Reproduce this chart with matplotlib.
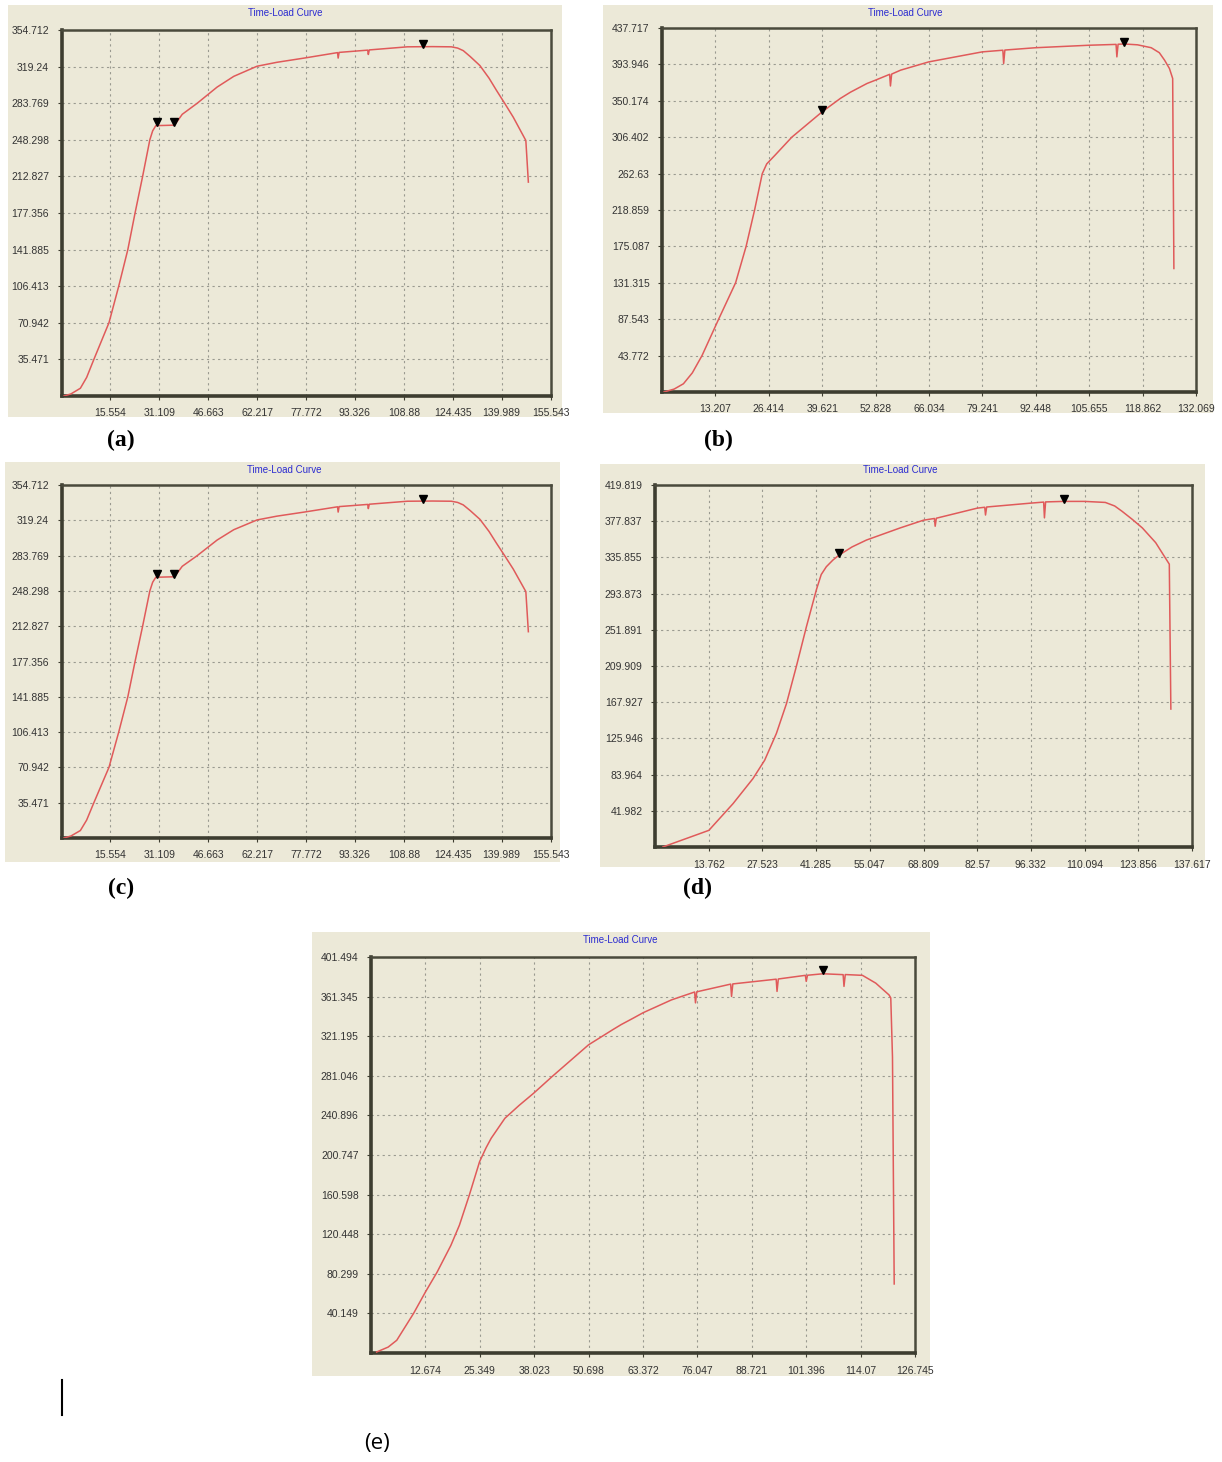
import matplotlib
matplotlib.use("Agg")
import matplotlib.pyplot as plt
from matplotlib.patches import Rectangle
from matplotlib.lines import Line2D

W, H = 1222, 1462
BG = "#ECE9D8"
SPINE = "#3d3d30"
CURVE = "#e05a5a"

# ---- data ----
# (a) and (c) show the same test
a_x = [0.8, 3.0, 6.0, 8.0, 10.3, 12.8, 15.1, 18.2, 21.1, 23.4, 25.8, 28.1, 29.0, 30.0, 35.9,
       37.0, 38.4, 43.2, 49.5, 54.8, 62.2, 68.5, 77.4, 87.8, 88.0, 88.3, 97.4, 97.6, 97.9,
       110.0, 118.0, 124.0, 126.0, 127.8, 130.0, 133.1, 136.0, 138.4, 141.0, 143.7, 147.7,
       148.5]
a_y = [0.0, 2.0, 7.5, 18.0, 35.5, 54.0, 71.0, 106.4, 141.9, 177.4, 212.8, 248.3, 257.0,
       262.0, 262.5, 267.0, 273.0, 283.8, 299.4, 309.8, 319.6, 323.4, 327.6, 332.8, 327.5,
       333.0, 335.2, 331.0, 335.4, 338.4, 338.6, 338.4, 337.2, 334.7, 329.0, 320.2, 308.0,
       296.0, 283.5, 270.2, 247.6, 207.3]
a_mx = [30.4, 35.9, 114.9]
a_my = [265.5, 265.5, 341.0]
a_xt = [15.554, 31.109, 46.663, 62.217, 77.772, 93.326, 108.88, 124.435, 139.989, 155.543]
a_yt = [35.471, 70.942, 106.413, 141.885, 177.356, 212.827, 248.298, 283.769, 319.24, 354.712]

b_x = [0.5, 3.0, 5.3, 7.5, 9.9, 14.0, 18.2, 20.8, 22.9, 24.8, 25.9, 28.0, 32.1, 39.6, 44.1,
       46.6, 50.7, 52.8, 56.3, 56.5, 56.8, 59.0, 66.0, 79.2, 84.3, 84.5, 84.8, 92.4, 105.7,
       112.3, 112.5, 112.8, 114.3, 117.6, 121.0, 123.0, 124.3, 125.5, 126.3, 126.6]
b_y = [0.0, 3.5, 9.9, 23.0, 43.8, 87.5, 131.3, 175.1, 218.9, 262.6, 274.3, 285.0, 306.4,
       336.9, 353.0, 360.5, 371.0, 375.0, 382.0, 368.0, 382.3, 387.0, 397.0, 409.0, 411.0,
       395.0, 411.2, 414.0, 417.0, 418.0, 403.0, 418.2, 418.5, 417.5, 414.0, 408.0, 399.0,
       389.0, 377.0, 148.5]
b_mx = [39.6, 114.3]
b_my = [339.0, 421.0]
b_xt = [13.207, 26.414, 39.621, 52.828, 66.034, 79.241, 92.448, 105.655, 118.862, 132.069]
b_yt = [43.772, 87.543, 131.315, 175.087, 218.859, 262.63, 306.402, 350.174, 393.946, 437.717]

d_x = [2.0, 13.8, 20.0, 25.1, 28.1, 31.1, 33.7, 36.2, 38.8, 41.4, 42.6, 43.9, 45.6, 47.2,
       50.5, 54.2, 62.8, 68.8, 71.6, 71.8, 72.1, 82.6, 84.5, 84.7, 85.0, 96.3, 99.6, 99.8,
       100.1, 104.7, 110.1, 115.4, 117.8, 119.7, 122.3, 124.9, 128.3, 131.8, 132.2]
d_y = [0.0, 19.3, 50.3, 79.3, 100.6, 131.6, 166.4, 209.0, 255.4, 299.0, 316.0, 325.0, 332.8,
       338.6, 348.0, 356.0, 370.0, 379.0, 381.0, 372.0, 381.3, 393.0, 394.0, 385.0, 394.3,
       398.8, 400.0, 381.7, 400.2, 400.8, 400.8, 399.6, 395.5, 389.3, 380.0, 370.0, 353.0,
       328.0, 160.0]
d_mx = [47.2, 104.7]
d_my = [341.0, 404.0]
d_xt = [13.762, 27.523, 41.285, 55.047, 68.809, 82.57, 96.332, 110.094, 123.856, 137.617]
d_yt = [41.982, 83.964, 125.946, 167.927, 209.909, 251.891, 293.873, 335.855, 377.837, 419.819]

e_x = [1.3, 4.0, 6.0, 9.9, 12.7, 15.4, 18.6, 20.6, 22.9, 25.3, 26.8, 28.0, 31.2, 34.5, 37.9,
       42.2, 50.7, 56.4, 58.3, 61.1, 63.4, 70.0, 75.4, 75.6, 75.9, 83.8, 84.0, 84.3, 94.4,
       94.6, 94.9, 101.2, 101.4, 101.7, 105.3, 110.0, 110.2, 110.5, 114.5, 117.6, 120.7,
       121.1, 121.5, 121.9]
e_y = [1.0, 6.0, 12.9, 40.0, 62.0, 82.0, 109.0, 129.6, 160.0, 194.0, 208.0, 217.7, 238.0,
       251.0, 263.4, 280.3, 312.5, 328.0, 333.0, 339.5, 345.0, 358.0, 366.0, 355.0, 366.2,
       374.0, 361.5, 374.2, 379.0, 366.6, 379.2, 382.9, 376.8, 383.0, 384.5, 383.6, 371.7,
       383.7, 382.9, 375.0, 363.0, 360.0, 300.0, 70.0]
e_mx = [105.3]
e_my = [388.0]
e_xt = [12.674, 25.349, 38.023, 50.698, 63.372, 76.047, 88.721, 101.396, 114.07, 126.745]
e_yt = [40.149, 80.299, 120.448, 160.598, 200.747, 240.896, 281.046, 321.195, 361.345, 401.494]


def rect(x0, y0, x1, y1):
    # pixel box (top-left origin) -> figure fraction
    return [x0 / W, 1 - y1 / H, (x1 - x0) / W, (y1 - y0) / H]

fig = plt.figure(figsize=(W / 100, H / 100), dpi=100)
fig.patch.set_facecolor("white")

def panel(box, plot, xs, ys, mx, my, xt, yt, title_x, title_y, lab, lab_xy, lab_font):
    fig.add_artist(Rectangle((box[0] / W, 1 - box[3] / H), (box[2] - box[0]) / W,
                             (box[3] - box[1]) / H, transform=fig.transFigure,
                             facecolor=BG, edgecolor="none", zorder=0))
    ax = fig.add_axes(rect(*plot))
    ax.set_facecolor(BG)
    ax.plot(xs, ys, color=CURVE, lw=1.1, zorder=3, solid_joinstyle="round")
    ax.plot(mx, my, "v", color="black", ms=6, zorder=4)
    ax.set_xlim(0, xt[-1])
    ax.set_ylim(0, yt[-1])
    ax.set_xticks(xt)
    ax.set_xticklabels([str(v) for v in xt])
    ax.set_yticks(yt)
    ax.set_yticklabels([str(v) for v in yt])
    ax.tick_params(length=3, width=0.8, color=SPINE, labelsize=7.5, labelcolor="#333333", pad=6)
    for t in ax.get_xticklabels() + ax.get_yticklabels():
        t.set_family("Liberation Sans")
    ax.grid(True, color="#9a9a90", lw=0.8, linestyle=(0, (2, 3)))
    for s in ["left", "bottom"]:
        ax.spines[s].set_linewidth(2.6)
        ax.spines[s].set_color(SPINE)
    for s in ["top", "right"]:
        ax.spines[s].set_linewidth(1.8)
        ax.spines[s].set_color("#4a4a3c")
    fig.text(title_x / W, 1 - title_y / H, "Time-Load Curve", color="#2b2bd0", fontsize=7,
             family="Liberation Sans", ha="center", va="center")
    fig.text(lab_xy[0] / W, 1 - lab_xy[1] / H, lab, ha="center", va="center", **lab_font)
    return ax

serif = dict(family="Liberation Serif", fontsize=17, fontweight="bold")
sans = dict(family="Open Sans", fontsize=16)

panel((8, 5, 562, 417), (61.5, 30, 550.5, 396), a_x, a_y, a_mx, a_my, a_xt, a_yt,
      285, 13, "(a)", (121, 440), serif)
panel((603, 5, 1213, 413), (662, 28, 1196, 392), b_x, b_y, b_mx, b_my, b_xt, b_yt,
      905, 13, "(b)", (718, 440), serif)
panel((5, 462, 560, 862), (61.5, 485, 550.5, 838), a_x, a_y, a_mx, a_my, a_xt, a_yt,
      284, 470, "(c)", (121, 888), serif)
panel((600, 464, 1205, 867), (655, 485, 1192, 847), d_x, d_y, d_mx, d_my, d_xt, d_yt,
      900, 470, "(d)", (697, 888), serif)
panel((312, 932, 930, 1376), (371, 957, 915, 1353), e_x, e_y, e_mx, e_my, e_xt, e_yt,
      620, 940, "(e)", (377, 1443), sans)

# stray cursor mark at the bottom left
fig.add_artist(Line2D([62 / W, 62 / W], [1 - 1380 / H, 1 - 1415 / H],
                      transform=fig.transFigure, color="black", lw=1.5))

fig.savefig("out.png", dpi=100)
